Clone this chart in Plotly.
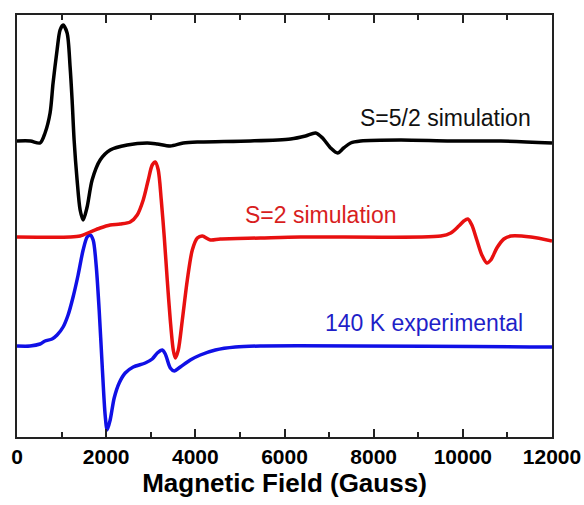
import plotly.graph_objects as go

# Magnetic field (Gauss) and signal intensity (arbitrary units, relative to each baseline)
black_field = [0, 300, 517, 629, 742, 809, 899, 966, 1034, 1124, 1191, 1236, 1281, 1348, 1416, 1483,
               1573, 1685, 1865, 2090, 2472, 2921, 3146, 3438, 3730, 4112, 5236, 6135, 6472, 6697,
               6854, 7034, 7191, 7326, 7483, 7707, 8606, 9730, 10853, 12000]
black_signal = [0, 0, -2, 8, 28, 58, 91, 111, 116, 108, 74, 41, 1, -39, -69, -79,
                -66, -39, -19, -9, -4, -2, -3, -5, -2, -1, 0, 2, 5, 8,
                3, -7, -12, -7, -2, 0, 1, 0, 0, -2]

red_field = [0, 1191, 1416, 1640, 1865, 2090, 2315, 2539, 2696, 2831, 2944, 3033, 3101, 3168, 3236,
             3303, 3370, 3438, 3505, 3550, 3618, 3708, 3820, 3932, 4045, 4157, 4337, 4561, 5460,
             6359, 9505, 9730, 9909, 10022, 10112, 10202, 10314, 10426, 10538, 10628, 10763,
             10920, 11078, 11527, 12000]
red_signal = [0, 0, 1, 5, 9, 12, 13, 15, 22, 37, 57, 72, 75, 67, 37,
              0, -43, -83, -113, -121, -113, -83, -43, -13, -1, 1, -3, -2, -1,
              0, 1, 4, 11, 16, 18, 12, -3, -18, -26, -23, -11,
              -2, 1, 0, -4]

blue_field = [0, 292, 517, 629, 786, 899, 1034, 1146, 1258, 1371, 1483, 1573, 1640, 1708, 1775,
              1843, 1910, 1977, 2022, 2090, 2180, 2292, 2427, 2607, 2876, 3033, 3146, 3258, 3326,
              3438, 3528, 3663, 3887, 4112, 4449, 4899, 5460, 12000]
blue_signal = [0, 0, 2, 5, 7, 11, 19, 31, 49, 71, 96, 109, 111, 106, 81,
               36, -19, -69, -84, -74, -52, -37, -27, -21, -17, -13, -7, -4, -8,
               -22, -25, -21, -14, -9, -4, -1, 0, -1]

# vertical offsets used to stack the spectra
black_offset = 296
red_offset = 200
blue_offset = 91

x_ticks = [0, 2000, 4000, 6000, 8000, 10000, 12000]

labels = ["S=5/2 simulation", "S=2 simulation", "140 K experimental"]
label_x = [11573, 8561, 11390]
label_y = [319, 222, 114]

BLACK = "#000000"
RED = "#e81010"
BLUE = "#1010e6"

fig = go.Figure()
fig.add_trace(go.Scatter(x=blue_field, y=[v + blue_offset for v in blue_signal], mode="lines",
                         line=dict(color=BLUE, width=3.5, shape="spline", smoothing=0.8),
                         showlegend=False))
fig.add_trace(go.Scatter(x=red_field, y=[v + red_offset for v in red_signal], mode="lines",
                         line=dict(color=RED, width=3.5, shape="spline", smoothing=0.8),
                         showlegend=False))
fig.add_trace(go.Scatter(x=black_field, y=[v + black_offset for v in black_signal], mode="lines",
                         line=dict(color=BLACK, width=3.5, shape="spline", smoothing=0.8),
                         showlegend=False))

label_colors = ["#111111", "#d81e1e", "#1f1fc8"]
for t, xx, yy, c in zip(labels, label_x, label_y, label_colors):
    fig.add_annotation(x=xx, y=yy, text=t, showarrow=False, xanchor="right", yanchor="middle",
                       font=dict(family="Liberation Sans, Arial, sans-serif", size=23, color=c))

fig.update_layout(
    width=584, height=505,
    margin=dict(l=17, r=32, t=15, b=68),
    paper_bgcolor="white", plot_bgcolor="white",
    font=dict(family="Liberation Sans, Arial, sans-serif", color="black"),
)
fig.update_xaxes(
    range=[0, 12000], tickvals=x_ticks, ticktext=[str(v) for v in x_ticks],
    ticks="inside", ticklen=8, tickwidth=1.5, tickcolor="#222",
    minor=dict(dtick=1000, tick0=0, ticks="inside", ticklen=5, tickwidth=1.5, tickcolor="#222"),
    showline=True, linecolor="#222", linewidth=1.5, mirror="ticks",
    showgrid=False, zeroline=False, automargin=False,
    tickfont=dict(size=21, weight="bold", color="black"),
    title=dict(text="Magnetic Field (Gauss)", font=dict(size=26, weight="bold", color="black"), standoff=3),
)
fig.update_yaxes(
    range=[0, 422], showticklabels=False, ticks="",
    showline=True, linecolor="#222", linewidth=1.5, mirror=True,
    showgrid=False, zeroline=False, automargin=False,
)

fig.write_html("out.html", config={"displayModeBar": False},
               post_script="document.body.style.margin='0px';")
